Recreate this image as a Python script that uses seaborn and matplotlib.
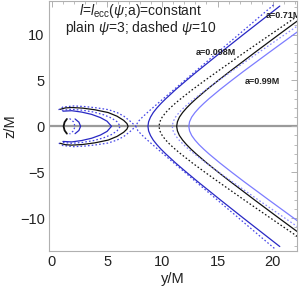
import pandas as pd
import matplotlib
matplotlib.use("Agg")
import matplotlib.pyplot as plt
import seaborn as sns
from matplotlib.ticker import MultipleLocator

# ── Data ──────────────────────────────────────────
# shared z samples for the a=0.71 and a=0.99 branches
z_open = [-12, -10, -8, -6, -5, -4, -3, -2.5, -2, -1.5, -1, -0.5, 0,
          0.5, 1, 1.5, 2, 2.5, 3, 4, 5, 6, 8, 10, 12]

y_071_psi3 = [22.82, 20.56, 18.33, 16.14, 15.07, 14.03, 13.06, 12.61, 12.20, 11.84, 11.55, 11.37, 11.30,
              11.37, 11.55, 11.84, 12.20, 12.61, 13.06, 14.03, 15.07, 16.14, 18.33, 20.56, 22.82]
y_071_psi10 = [22.23, 19.80, 17.39, 15.02, 13.86, 12.73, 11.67, 11.17, 10.71, 10.31, 9.99, 9.78, 9.70,
               9.78, 9.99, 10.31, 10.71, 11.17, 11.67, 12.73, 13.86, 15.02, 17.39, 19.80, 22.23]
y_099_psi3 = [24.20, 21.90, 19.62, 17.37, 16.28, 15.22, 14.22, 13.76, 13.33, 12.96, 12.66, 12.47, 12.40,
              12.47, 12.66, 12.96, 13.33, 13.76, 14.22, 15.22, 16.28, 17.37, 19.62, 21.90, 24.20]
y_099_psi10 = [23.55, 21.10, 18.67, 16.28, 15.11, 13.97, 12.90, 12.39, 11.93, 11.52, 11.19, 10.98, 10.90,
               10.98, 11.19, 11.52, 11.93, 12.39, 12.90, 13.97, 15.11, 16.28, 18.67, 21.10, 23.55]

# a=0.098 branches
z_098_psi3 = [-13.1, -12, -10, -8, -6, -5, -4, -3, -2.5, -2, -1.5, -1, -0.5, 0,
              0.5, 1, 1.5, 2, 2.5, 3, 4, 5, 6, 8, 10, 12, 13.1]
y_098_psi3 = [20.64, 19.47, 17.34, 15.24, 13.18, 12.18, 11.21, 10.31, 9.89, 9.51, 9.18, 8.93, 8.76, 8.70,
              8.76, 8.93, 9.18, 9.51, 9.89, 10.31, 11.21, 12.18, 13.18, 15.24, 17.34, 19.47, 20.64]
z_098_psi10 = [-13.3, -12, -10, -8, -6, -5, -4, -3, -2.5, -2, -1.5, -1, -0.5, 0,
               0.5, 1, 1.5, 2, 2.5, 3, 4, 5, 6, 8, 10, 12, 13.3]
y_098_psi10 = [20.15, 18.87, 16.92, 14.96, 13.00, 12.03, 11.05, 10.08, 9.60, 9.12, 8.65, 8.20, 7.80, 7.60,
               7.80, 8.20, 8.65, 9.12, 9.60, 10.08, 11.05, 12.03, 13.00, 14.96, 16.92, 18.87, 20.15]

# bounded lobes near the hole
lobe1_y = [0.6, 1.0, 2.0, 3.0, 4.0, 5.1, 5.9, 6.5, 7.1, 7.6, 7.1, 6.5, 5.9, 5.1, 4.0, 3.0, 2.0, 1.0, 0.6]
lobe1_z = [1.8, 2.1, 2.22, 2.15, 2.02, 1.82, 1.5, 1.12, 0.55, 0, -0.55, -1.12, -1.5, -1.82, -2.02, -2.15, -2.22, -2.1, -1.8]
lobe2_y = [0.75, 1.2, 1.8, 2.8, 3.9, 5.1, 5.9, 6.5, 6.8, 6.9, 6.8, 6.5, 5.9, 5.1, 3.9, 2.8, 1.8, 1.2, 0.75]
lobe2_z = [1.85, 2.0, 2.05, 1.98, 1.8, 1.5, 1.1, 0.65, 0.3, 0, -0.3, -0.65, -1.1, -1.5, -1.8, -1.98, -2.05, -2.0, -1.85]
lobe3_y = [0.9, 1.8, 2.8, 3.8, 4.7, 5.4, 5.9, 6.2, 5.9, 5.4, 4.7, 3.8, 2.8, 1.8, 0.9]
lobe3_z = [1.75, 1.85, 1.75, 1.55, 1.25, 0.9, 0.5, 0, -0.5, -0.9, -1.25, -1.55, -1.75, -1.85, -1.75]
lobe4_y = [1.0, 1.8, 2.7, 3.6, 4.4, 5.0, 5.4, 5.0, 4.4, 3.6, 2.7, 1.8, 1.0]
lobe4_z = [1.65, 1.7, 1.55, 1.3, 0.95, 0.55, 0, -0.55, -0.95, -1.3, -1.55, -1.7, -1.65]

arc1_y = [1.36, 1.15, 1.06, 1.15, 1.36]
arc1_z = [0.8, 0.45, 0, -0.45, -0.8]
arc2_y = [1.6, 1.95, 2.1, 1.95, 1.6]
arc2_z = [0.85, 0.5, 0, -0.5, -0.85]
arc3_y = [2.1, 2.45, 2.6, 2.45, 2.1]
arc3_z = [0.8, 0.45, 0, -0.45, -0.8]

labels = ["a=0.098M", "a=0.71M", "a=0.99M"]

# ── Style ─────────────────────────────────────────
sns.set_theme(style="white")
plt.rcParams['font.family'] = ['Liberation Sans', 'DejaVu Sans']
plt.rcParams['mathtext.fontset'] = 'custom'
plt.rcParams['mathtext.rm'] = 'Liberation Sans'
plt.rcParams['mathtext.it'] = 'Liberation Sans:italic'

DARK = '#2828c4'
DARK_D = '#4646e8'
LIGHT = '#7c7cff'
LIGHT_D = '#8c8cff'
BLACK = '#111111'
DOT = (0, (1.3, 1.7))

fig = plt.figure(figsize=(3.0, 2.92), dpi=100)
ax = fig.add_axes([0.163, 0.140, 0.827, 0.858])

ax.axhline(0, color='#9a9a9a', lw=1.6, zorder=0)


def draw(y, z, color, ls='-', lw=0.9):
    df = pd.DataFrame({'y': y, 'z': z})
    sns.lineplot(data=df, x='y', y='z', sort=False, estimator=None,
                 color=color, linestyle=ls, lw=lw, ax=ax)


# open branches
draw(y_098_psi10, z_098_psi10, DARK_D, DOT)
draw(y_098_psi3, z_098_psi3, DARK)
draw(y_071_psi10, z_open, BLACK, DOT)
draw(y_071_psi3, z_open, BLACK)
draw(y_099_psi10, z_open, LIGHT_D, DOT)
draw(y_099_psi3, z_open, LIGHT)

# bounded parts
draw(lobe1_y, lobe1_z, DARK_D, DOT)
draw(lobe2_y, lobe2_z, BLACK)
draw(lobe3_y, lobe3_z, DARK_D, DOT)
draw(lobe4_y, lobe4_z, DARK)
draw(arc1_y, arc1_z, BLACK, lw=1.3)
draw(arc2_y, arc2_z, DARK_D, DOT)
draw(arc3_y, arc3_z, DARK)

ax.set_xlim(-0.27, 22.2)
ax.set_ylim(-13.6, 13.7)

ax.xaxis.set_major_locator(MultipleLocator(5))
ax.xaxis.set_minor_locator(MultipleLocator(1))
ax.yaxis.set_major_locator(MultipleLocator(5))
ax.yaxis.set_minor_locator(MultipleLocator(1))
ax.set_xticks([0, 5, 10, 15, 20])
ax.set_yticks([-10, -5, 0, 5, 10])
ax.set_yticklabels(['\u221210', '\u22125', '0', '5', '10'])
ax.tick_params(which='both', direction='in', top=True, right=True,
               color='#b0b0b0', labelsize=10.5, labelcolor='#222222', pad=3)
ax.tick_params(which='major', length=4, width=0.7)
ax.tick_params(which='minor', length=2, width=0.6)
for s in ax.spines.values():
    s.set_color('#b0b0b0')
    s.set_linewidth(0.8)

ax.set_xlabel('y/M', fontsize=10.5, color='#222222', labelpad=2)
ax.set_ylabel('z/M', fontsize=10.5, color='#222222', labelpad=2)

ax.text(8.0, 12.6, r'$l$=$l_{\mathrm{ecc}}$($\psi$;a)=constant',
        ha='center', va='center', fontsize=10, color='#222222')
ax.text(8.07, 10.76, r'plain $\psi$=3; dashed $\psi$=10',
        ha='center', va='center', fontsize=10, color='#222222')

ax.text(14.87, 8.04, labels[0], ha='center', va='center', fontsize=6.5,
        fontweight='bold', color='#222222')
ax.text(20.94, 12.07, labels[1], ha='center', va='center', fontsize=6.5,
        fontweight='bold', color='#222222', clip_on=True)
ax.text(19.04, 4.89, labels[2], ha='center', va='center', fontsize=6.5,
        fontweight='bold', color='#222222')

ax.get_legend() and ax.get_legend().remove()

fig.savefig('out.png', dpi=100)
